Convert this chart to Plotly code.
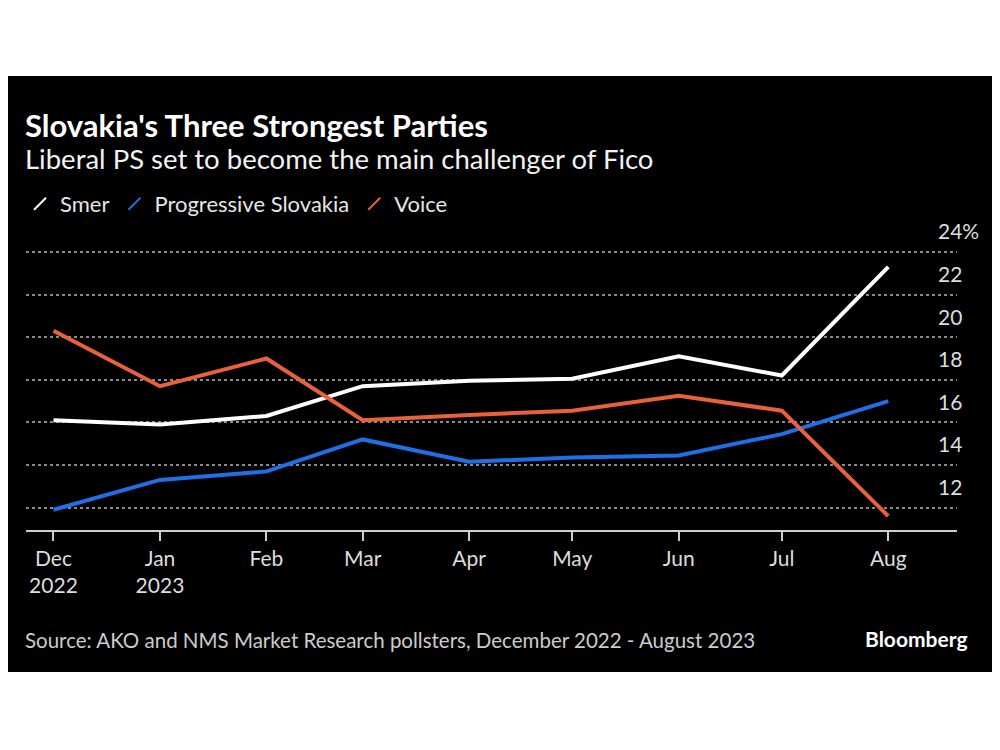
import plotly.graph_objects as go

months = ["2022-12-01", "2023-01-01", "2023-02-01", "2023-03-01", "2023-04-01",
          "2023-05-01", "2023-06-01", "2023-07-01", "2023-08-01"]
tick_text = ["Dec<br>2022", "Jan<br>2023", "Feb", "Mar", "Apr", "May", "Jun", "Jul", "Aug"]

smer = [16.1, 15.9, 16.3, 17.7, 17.95, 18.05, 19.1, 18.2, 23.3]
progressive = [11.9, 13.3, 13.7, 15.2, 14.15, 14.35, 14.45, 15.45, 17.0]
voice = [20.3, 17.7, 19.0, 16.1, 16.35, 16.55, 17.25, 16.55, 11.6]

y_ticks = [12, 14, 16, 18, 20, 22, 24]
y_tick_text = ["12", "14", "16", "18", "20", "22", "24%"]

series = [("Smer", smer, "#ffffff"),
          ("Progressive Slovakia", progressive, "#1f6fe8"),
          ("Voice", voice, "#e8613a")]

FONT = "Lato"

fig = go.Figure()
for name, vals, color in series:
    fig.add_trace(go.Scatter(x=months, y=vals, mode="lines", name=name,
                             line=dict(color=color, width=4), showlegend=False,
                             hoverinfo="skip"))
for name, vals, color in series:
    fig.add_trace(go.Scatter(x=[None], y=[None], mode="markers", name=name,
                             marker=dict(symbol="line-ne", size=17,
                                         line=dict(color=color, width=5))))

OFF = 8  # browser body margin
W, H = 1000 - OFF, 750 - OFF
PLOT_L, PLOT_R, PLOT_T, PLOT_B = 22, 957, 240, 530  # page pixels
L = PLOT_L - OFF
R = W - (PLOT_R - OFF)
T = PLOT_T - OFF
B = H - (PLOT_B - OFF)
ph = PLOT_B - PLOT_T
pw = PLOT_R - PLOT_L

def py(pix):
    return (PLOT_B - pix) / ph

def px(pix):
    return (pix - PLOT_L) / pw

fig.update_layout(
    width=W, height=H,
    margin=dict(l=L, r=R, t=T, b=B),
    paper_bgcolor="#ffffff",
    plot_bgcolor="#000000",
    font=dict(family=FONT, color="#dddddd", size=21),
    showlegend=True,
    legend=dict(orientation="h", x=px(16), y=py(204), yanchor="middle", xanchor="left",
                font=dict(size=22, color="#e6e6e6"), bgcolor="rgba(0,0,0,0)",
                itemsizing="constant", tracegroupgap=0),
    xaxis=dict(type="date", range=["2022-11-23", "2023-08-21"],
               tickvals=months, ticktext=tick_text, showgrid=False,
               showline=True, linecolor="#cfcfcf", linewidth=1.5,
               ticks="outside", ticklen=9, tickcolor="#cfcfcf", tickwidth=1.5,
               tickfont=dict(size=21, color="#dddddd"), zeroline=False),
    yaxis=dict(range=[10.95, 24.56], tickvals=y_ticks, ticktext=y_tick_text,
               side="right", showgrid=True, gridcolor="#8a8a8a", griddash="dot",
               gridwidth=1.5, zeroline=False, showline=False, ticks="",
               ticklabelshift=-20, ticklabelstandoff=-20,
               tickfont=dict(size=21, color="#dddddd")),
    shapes=[dict(type="rect", xref="paper", yref="paper", x0=-0.05, x1=1.1,
                 y0=py(672), y1=py(76), fillcolor="#000000", line=dict(width=0),
                 layer="below")],
    annotations=[
        dict(text="<b>Slovakia's Three Strongest Parties</b>", xref="paper", yref="paper",
             x=px(19), y=py(125), xanchor="left", yanchor="middle", showarrow=False,
             font=dict(size=31, color="#ffffff")),
        dict(text="Liberal PS set to become the main challenger of Fico", xref="paper",
             yref="paper", x=px(19), y=py(158), xanchor="left", yanchor="middle",
             showarrow=False, font=dict(size=27.5, color="#f2f2f2")),
        dict(text="Source: AKO and NMS Market Research pollsters, December 2022 - August 2023",
             xref="paper", yref="paper", x=px(19), y=py(640), xanchor="left", yanchor="middle",
             showarrow=False, font=dict(size=20.5, color="#cccccc")),
        dict(text="<b>Bloomberg</b>", xref="paper", yref="paper", x=px(970),
             y=py(638), xanchor="right", yanchor="middle", showarrow=False,
             font=dict(size=21, color="#ffffff")),
    ],
)

fig.write_html("out.html")
